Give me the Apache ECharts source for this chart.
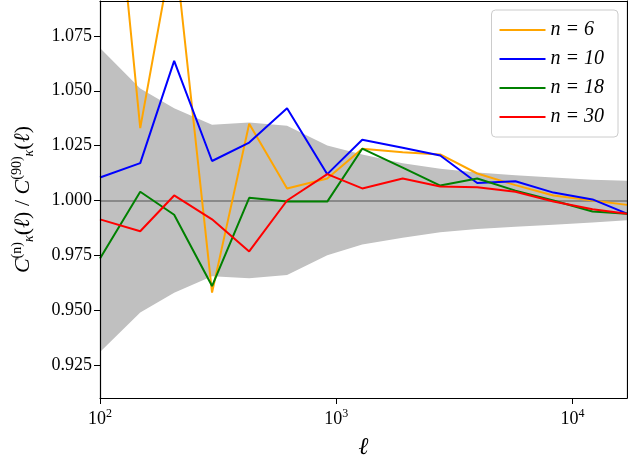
<!DOCTYPE html>
<html>
<head>
<meta charset="utf-8">
<script src="https://cdn.jsdelivr.net/npm/echarts@6/dist/echarts.min.js"></script>
<style>html,body{margin:0;padding:0;background:#fff}#chart{width:628px;height:456px}</style>
</head>
<body>
<div id="chart"></div>
<script>
// multipoles
const ell = [100, 148, 206, 298, 428, 619, 916, 1288, 1910, 2754, 3950, 5730, 8300, 12150, 17000];

// ratio of spectra for each n
const n6  = [1.22, 1.033, 1.118, 0.958, 1.035, 1.0055, 1.010, 1.0236, 1.022, 1.021, 1.0123, 1.007, 1.0023, 1.000, 0.998];
const n10 = [1.0105, 1.017, 1.0636, 1.018, 1.0264, 1.042, 1.012, 1.0277, 1.024, 1.0205, 1.008, 1.0088, 1.0036, 1.0005, 0.994];
const n18 = [0.9736, 1.004, 0.9935, 0.961, 1.0012, 0.9995, 0.9995, 1.0236, 1.015, 1.0068, 1.010, 1.0045, 1.000, 0.995, 0.994];
const n30 = [0.9914, 0.986, 1.0023, 0.9914, 0.9768, 1.000, 1.012, 1.0055, 1.010, 1.0064, 1.006, 1.004, 0.9995, 0.996, 0.994];

// error band
const bandHi = [1.0695, 1.051, 1.042, 1.0345, 1.0355, 1.034, 1.025, 1.021, 1.017, 1.0145, 1.0127, 1.0115, 1.0105, 1.0095, 1.009];
const bandLo = [0.931, 0.949, 0.958, 0.9655, 0.9646, 0.966, 0.975, 0.980, 0.983, 0.9855, 0.987, 0.988, 0.989, 0.990, 0.991];

const yTicks = [0.925, 0.95, 0.975, 1.0, 1.025, 1.05, 1.075];
const xTicks = [100, 1000, 10000];

const font = 'Liberation Serif';
const pairs = arr => arr.map((v, i) => [ell[i], v]);

function line(name, data, color) {
    return {
        name: name, type: 'line', data: pairs(data), symbol: 'none',
        lineStyle: { color: color, width: 2 }, itemStyle: { color: color }, z: 5
    };
}

const frame = { show: true, lineStyle: { color: '#000', width: 1.2 } };

echarts.init(document.getElementById('chart')).setOption({
    animation: false,
    grid: { left: 100, right: 1, top: 1, bottom: 58, outerBoundsMode: 'none', containLabel: false },
    legend: {
        right: 10, top: 10, orient: 'vertical', itemWidth: 46, itemHeight: 2, itemGap: 9,
        padding: [10, 14, 10, 8],
        borderColor: '#ccc', borderWidth: 1, borderRadius: 4, backgroundColor: '#fff',
        data: ['n = 6', 'n = 10', 'n = 18', 'n = 30'],
        textStyle: { fontFamily: font, fontSize: 20, fontStyle: 'italic', color: '#000' },
        icon: 'rect'
    },
    xAxis: [{
        type: 'log', min: 100, max: 17000, logBase: 10, z: 10,
        name: 'ℓ', nameLocation: 'middle', nameGap: 38,
        nameTextStyle: { fontFamily: font, fontSize: 24, fontStyle: 'italic', color: '#000' },
        axisLine: frame,
        axisTick: { customValues: xTicks, length: 6, lineStyle: { color: '#000' } },
        axisLabel: {
            customValues: xTicks,
            formatter: v => '10{s|' + Math.round(Math.log10(v)) + '}',
            fontFamily: font, fontSize: 18, color: '#000', margin: 10,
            rich: { s: { fontFamily: font, fontSize: 12, verticalAlign: 'top', padding: [0, 0, 10, 0] } }
        },
        splitLine: { show: false }
    }, {
        type: 'log', min: 100, max: 17000, position: 'top', z: 10,
        axisLine: frame, axisTick: { show: false }, axisLabel: { show: false }, splitLine: { show: false }
    }],
    yAxis: [{
        type: 'value', min: 0.91, max: 1.0909, z: 10,
        name: '{i|C}{s|(n)}{b|κ}{n|(}{i|ℓ}{n|) / }{i|C}{s|(90)}{b|κ}{n|(}{i|ℓ}{n|)}',
        nameLocation: 'middle', nameGap: 64,
        nameTextStyle: {
            rich: {
                i: { fontFamily: font, fontSize: 22, fontStyle: 'italic', color: '#000' },
                n: { fontFamily: font, fontSize: 22, color: '#000' },
                s: { fontFamily: font, fontSize: 14, color: '#000', verticalAlign: 'top', padding: [0, 0, 12, 0] },
                b: { fontFamily: font, fontSize: 14, fontStyle: 'italic', color: '#000', verticalAlign: 'bottom', padding: [10, 0, 0, 0] }
            }
        },
        axisLine: frame,
        axisTick: { customValues: yTicks, length: 6, lineStyle: { color: '#000' } },
        axisLabel: {
            customValues: yTicks, formatter: v => v.toFixed(3),
            fontFamily: font, fontSize: 18, color: '#000', margin: 8
        },
        splitLine: { show: false }
    }, {
        type: 'value', min: 0.91, max: 1.0909, position: 'right', z: 10,
        axisLine: frame, axisTick: { show: false }, axisLabel: { show: false }, splitLine: { show: false }
    }],
    series: [
        {
            name: 'hi', type: 'line', data: pairs(bandHi), symbol: 'none', lineStyle: { width: 0 }, z: 1, silent: true,
            areaStyle: { color: '#c0c0c0', opacity: 1, origin: 'start' }
        },
        {
            name: 'lo', type: 'line', data: pairs(bandLo), symbol: 'none', lineStyle: { width: 0 }, z: 2, silent: true,
            areaStyle: { color: '#ffffff', opacity: 1, origin: 'start' },
            markLine: {
                silent: true, symbol: 'none', label: { show: false },
                lineStyle: { color: '#777', width: 1.5, type: 'solid' },
                data: [{ yAxis: 1.0 }]
            }
        },
        line('n = 6', n6, '#ffa500'),
        line('n = 10', n10, '#0000ff'),
        line('n = 18', n18, '#008000'),
        line('n = 30', n30, '#ff0000')
    ]
});
</script>
</body>
</html>
